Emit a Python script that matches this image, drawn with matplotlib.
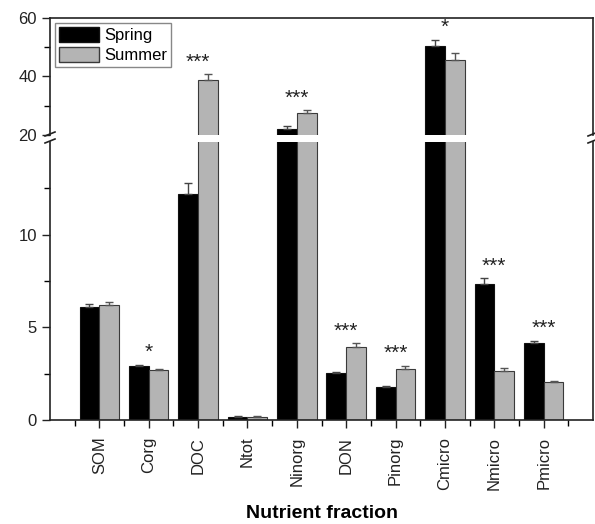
import numpy as np
import matplotlib
matplotlib.use('Agg')
from matplotlib import pyplot as plt
from matplotlib.ticker import MultipleLocator, FixedLocator
from matplotlib.patches import Patch

plt.rcParams['font.family'] = ['Liberation Sans', 'DejaVu Sans']

fractions = ['SOM', 'Corg', 'DOC', 'Ntot', 'Ninorg', 'DON', 'Pinorg', 'Cmicro', 'Nmicro', 'Pmicro']
spring = [6.1, 2.92, 12.2, 0.17, 22.2, 2.55, 1.8, 50.4, 7.35, 4.17]
summer = [6.2, 2.7, 38.8, 0.17, 27.5, 3.95, 2.77, 45.6, 2.65, 2.07]
spring_err = [0.15, 0.05, 0.6, 0.02, 0.8, 0.05, 0.05, 2.2, 0.3, 0.1]
summer_err = [0.15, 0.05, 2.0, 0.02, 0.9, 0.18, 0.15, 2.3, 0.15, 0.05]
stars = ['', '*', '***', '', '***', '***', '***', '*', '***', '***']

W, H = 595, 524
fig = plt.figure(figsize=(W / 100, H / 100), dpi=100)
left, right = 50 / W, 593 / W
ax_hi = fig.add_axes([left, 1 - 135 / H, right - left, (135 - 18) / H])
ax_lo = fig.add_axes([left, 1 - 420 / H, right - left, (420 - 142) / H])

x = np.arange(1, len(fractions) + 1)
bw = 0.4
black = '#000000'
grey = '#b4b4b4'

for ax in (ax_hi, ax_lo):
    ax.bar(x - bw / 2, spring, bw, color=black, edgecolor='#111111', linewidth=0.8,
           yerr=[np.zeros(len(spring)), spring_err], error_kw=dict(ecolor='#444444', capsize=3, elinewidth=1, capthick=1))
    ax.bar(x + bw / 2, summer, bw, color=grey, edgecolor='#3a3a3a', linewidth=0.8,
           yerr=[np.zeros(len(summer)), summer_err], error_kw=dict(ecolor='#555555', capsize=3, elinewidth=1, capthick=1))
    ax.set_xlim(0, 11)
    ax.tick_params(axis='both', labelsize=12, colors='#222222', direction='out')
    ax.tick_params(axis='y', which='major', length=6, width=1)
    ax.tick_params(axis='y', which='minor', length=4, width=1)
    for s in ax.spines.values():
        s.set_linewidth(1.2)
        s.set_color('#222222')

# upper part
ax_hi.set_ylim(20, 60)
ax_hi.yaxis.set_major_locator(MultipleLocator(20))
ax_hi.yaxis.set_minor_locator(MultipleLocator(10))
ax_hi.spines['bottom'].set_visible(False)
ax_hi.tick_params(axis='x', which='both', bottom=False, labelbottom=False)

# lower part
ax_lo.set_ylim(0, 15)
ax_lo.yaxis.set_major_locator(FixedLocator([0, 5, 10]))
ax_lo.yaxis.set_minor_locator(FixedLocator([2.5, 7.5, 12.5]))
ax_lo.spines['top'].set_visible(False)
ax_lo.set_xticks(x)
ax_lo.set_xticklabels(fractions, rotation=90)
ax_lo.set_xticks(np.arange(0.5, 11, 1), minor=True)
ax_lo.tick_params(axis='x', which='major', length=6, width=1, pad=6)
ax_lo.tick_params(axis='x', which='minor', length=4, width=1)
ax_lo.set_xlabel('Nutrient fraction', fontsize=14, fontweight='bold', labelpad=11)

# significance stars
for i, s in enumerate(stars):
    if not s:
        continue
    top = max(spring[i] + spring_err[i], summer[i] + summer_err[i])
    ax = ax_hi if top > 15 else ax_lo
    ax.annotate(s, (x[i], top), xytext=(0, 2), textcoords='offset points',
                ha='center', va='bottom', fontsize=15, color='#222222')

# break marks
d = 5 / W
kw = dict(color='#222222', linewidth=1.2, clip_on=False, transform=fig.transFigure)
for xb in (left, right):
    for yb in (1 - 134 / H, 1 - 141 / H):
        fig.add_artist(plt.Line2D([xb - d, xb + d], [yb - 2 / H, yb + 2 / H], **kw))

handles = [Patch(facecolor=black, edgecolor='#111111'), Patch(facecolor=grey, edgecolor='#3a3a3a')]
ax_hi.legend(handles, ['Spring', 'Summer'], loc='upper left', fontsize=12, frameon=True,
             fancybox=False, edgecolor='#888888', framealpha=1, borderaxespad=0.3,
             handlelength=2.4, handleheight=1.0, handletextpad=0.3, borderpad=0.25, labelspacing=0.2)

fig.savefig('out.png', dpi=100)
